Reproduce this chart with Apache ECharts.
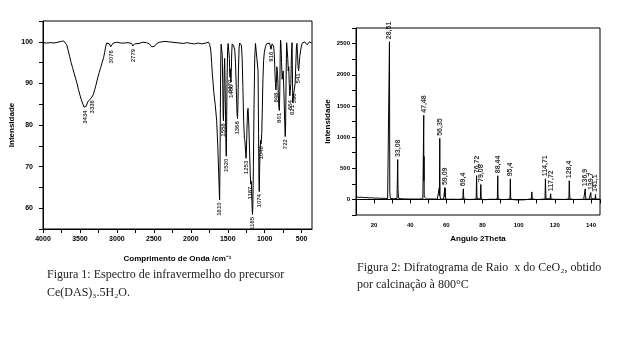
<!DOCTYPE html>
<html><head><meta charset="utf-8">
<script src="https://cdn.jsdelivr.net/npm/echarts@6/dist/echarts.min.js"></script>
<style>html,body{margin:0;padding:0;background:#fff}#c{width:623px;height:343px}</style>
</head><body><div id="c"></div>
<script>
// ---- Figure 1: IR spectrum ----
const irWavenumber = [4000,3950,3900,3850,3800,3750,3720,3700,3680,3660,3640,3620,3600,3580,3560,3540,3520,3500,3480,3460,3445,3430,3415,3400,3385,3370,3350,3335,3320,3300,3280,3260,3240,3220,3200,3180,3165,3150,3140,3120,3100,3085,3075,3065,3050,3000,2950,2900,2850,2800,2785,2775,2760,2700,2650,2600,2560,2530,2510,2490,2460,2420,2350,2300,2200,2100,2050,2000,1950,1900,1850,1800,1760,1745,1730,1718,1708,1700,1690,1670,1650,1635,1622,1615,1610,1605,1600,1595,1590,1582,1575,1568,1562,1558,1554,1548,1542,1536,1530,1524,1520,1516,1510,1502,1495,1485,1478,1472,1469,1465,1461,1457,1452,1446,1440,1430,1420,1405,1395,1385,1375,1368,1362,1355,1347,1338,1325,1315,1305,1295,1285,1275,1268,1260,1253,1248,1240,1232,1225,1215,1205,1195,1188,1183,1177,1170,1165,1160,1153,1145,1135,1125,1110,1098,1090,1083,1078,1074,1070,1064,1056,1048,1040,1032,1024,1015,1005,990,975,955,935,922,915,910,900,890,880,870,862,855,848,842,835,825,815,807,801,796,790,786,780,772,764,757,750,740,730,722,717,710,703,695,688,681,675,668,660,653,646,638,630,624,620,612,604,595,588,578,570,563,556,548,541,534,525,515,505,495,480,460,440,425,410,395,380,365];
const irTransmittance = [99.8,99.7,99.8,99.7,99.9,100.1,100.2,100,99.3,98,96.5,95,93.8,92.5,91.3,90,88.5,87.2,86,85,84.3,84.1,84.5,85.3,85.8,86,86.4,86.6,87.3,88.5,89.8,91.3,92.6,93.8,95,96.2,97.5,99,99.7,99.8,99.5,98.8,98.6,99.2,99.7,99.9,99.7,99.7,99.8,99.6,99,98.9,99.5,99.6,99.9,99.8,99.5,98.8,98.5,98.9,99.6,99.9,100.1,100,99.8,99.6,99.8,99.6,99.5,99.7,99.5,99.7,99.9,99.4,98,95,92,90.5,88,85,81,75,68,64,62,70,84,95,99.4,99.6,97,90,82,81,85,93,96,90,82,75,72.5,78,90,98,99.6,99.5,96,92,91.5,93.5,92,90.3,93,97.5,99.5,99.6,99,98,95,89,83,81.5,85,93,98.5,99.7,99.8,99.2,96,89,81,76.8,76.2,74,72,73.5,79,83.5,84,80,74,68,65.8,66.5,64.5,60,58.5,61,70,84,96,99.6,99.7,99.8,93,78,67,64,68,73,76.3,75.5,78,84,91,95.5,97.5,98.8,99.5,99.8,99.7,99.3,98.2,98.6,99.5,99.6,99,97,93,90,88.4,90,94,92,87,84,83.5,88,97,100.4,99.5,95,91,90.6,93,88,81,77.2,80,92,99.8,99.6,96,93,94,90,87,86.6,90,97,99.8,91,85.4,87,88,88.2,90,95,99,99.6,97,94,93,94.5,96.5,97.8,98.8,99.6,99.9,100,99.8,99.3,99.6,100,99.8,99.7];
const irBandWavenumber = [3430,3335,3075,2775,1610,1558,1520,1469,1457,1368,1253,1188,1165,1074,1048,915,848,801,722,653,620,595,541];
const irBandTransmittance = [84.1,86.6,98.6,98.9,62,81,72.5,91.5,90.3,81.5,72,65.8,58.5,64,75.5,98.2,88.4,83.5,77.2,86.6,85.4,88.2,93];
const irBandLabels = ['3434','3336','3076','2779','1610','1558','1520','1470','1456','1368','1253','1187','1165','1074','1048','916','848','801','722','654','621','596','541'];
const irXTickLabels = [4000,3500,3000,2500,2000,1500,1000,500];
const irXTicks = [4000,3750,3500,3250,3000,2750,2500,2250,2000,1750,1500,1250,1000,750,500];
const irYTickLabels = [60,70,80,90,100];

// ---- Figure 2: XRD pattern ----
const xrdAngle = [10,10.5,11,11.5,12,12.5,13,13.5,14,14.5,15,15.5,16,16.5,17,17.5,18,18.3,19,19.5,20,20.5,21,21.5,22,22.5,23,23.5,24,24.5,25,25.5,26,26.3,27,27.5,28,28.3,28.51,28.7,28.85,29.1,30,31,32,32.7,32.9,33.08,33.25,33.35,33.5,34,35,36,37,38,39,40,41,42,43,43.5,43.8,45,46,47,47.3,47.48,47.55,47.62,47.75,48,49,50,51,52,53,54,55,55.9,56.05,56.15,56.35,56.5,56.7,57.5,58.5,58.9,59.09,59.2,59.35,59.5,60,61,62,63,64,65,66,67,68,69.1,69.4,69.55,69.7,70,71,72,73,74,75,76,76.5,76.72,76.9,77.1,78,78.8,79.08,79.25,79.4,80,81,82,83,84,85,86,87,88.2,88.44,88.55,88.7,89,90,91,92,93,94,95.2,95.4,95.6,96,97,98,99,100,101,102,103,104,105,106,107.1,107.3,107.5,108,109,110,111,112,113,114.6,114.8,114.95,115.1,116,117.4,117.7,117.9,118.5,119,120,121,122,123,124,125,126,127,127.8,128,128.2,128.4,129,130,131,132,133,134,135,136,136.6,136.8,137,137.2,138,139,139.7,139.9,140.1,141,142.3,142.5,142.7,143.5,144.5,145];
const xrdIntensity = [42,35,40,33,38,30,36,30,34,28,32,27,30,26,29,24,35,24,26,22,25,20,24,19,22,18,20,17,22,16,18,15,30,16,17,14,18,40,2530,120,55,15,12,10,12,14,40,640,160,150,20,8,10,8,7,9,7,8,6,8,5,20,6,6,7,10,40,1350,300,690,40,8,6,5,7,4,6,3,5,10,180,60,980,70,8,4,6,15,190,40,180,10,4,2,5,3,4,2,3,1,3,8,170,60,6,3,1,2,0,2,1,4,10,380,60,6,3,10,240,40,4,2,-5,2,0,1,3,-2,1,10,380,90,5,2,0,1,-2,0,1,10,330,10,0,-3,-5,-8,-10,-8,-10,-6,-3,0,2,10,120,8,2,0,-2,-1,0,2,10,330,160,10,3,10,90,8,2,0,1,0,2,1,0,2,0,1,10,300,90,8,2,0,1,0,-1,1,0,2,10,170,60,5,3,5,10,110,10,4,10,80,8,5,3,4];
const xrdPeakAngle = [28.51,33.08,47.48,56.35,59.09,69.4,76.72,79.08,88.44,95.4,114.8,117.7,128,136.8,139.9,142.5];
const xrdPeakIntensity = [2530,640,1350,980,190,170,380,240,380,330,330,90,300,170,110,80];
const xrdPeakLabels = ['28,51','33,08','47,48','56,35','59,09','69,4','76,72','79,08','88,44','95,4','114,71','117,72','128,4','136,9','139,7','141,1'];
const xrdXTickLabels = [20,40,60,80,100,120,140];
const xrdYTickLabels = [0,500,1000,1500,2000,2500];

const irLine = irWavenumber.map((w, i) => [w, irTransmittance[i]]);
const irBands = irBandWavenumber.map((w, i) => ({ value: [w, irBandTransmittance[i]], name: irBandLabels[i] }));
const xrdLine = xrdAngle.map((a, i) => [a, xrdIntensity[i]]);
const xrdPeaks = xrdPeakAngle.map((a, i) => ({ value: [a, xrdPeakIntensity[i]], name: xrdPeakLabels[i] }));

const FONT = 'Liberation Sans';
const plain = v => String(v);
const axisCommon = {
  axisLine: { show: true, lineStyle: { color: '#000', width: 1 } },
  splitLine: { show: false },
  nameTextStyle: { color: '#000', fontFamily: FONT, fontWeight: 'bold', fontSize: 8 }
};

const chart = echarts.init(document.getElementById('c'), null, { renderer: 'canvas' });
chart.setOption({
  animation: false,
  backgroundColor: '#fff',
  grid: [
    { left: 43, top: 21, width: 269, height: 208, show: true, borderColor: '#000', borderWidth: 1 },
    { left: 356, top: 28, width: 244, height: 187, show: true, borderColor: '#000', borderWidth: 1 }
  ],
  xAxis: [
    Object.assign({}, axisCommon, {
      type: 'value', gridIndex: 0, min: 360, max: 4000, inverse: true,
      axisTick: { show: true, length: 4, customValues: irXTicks, lineStyle: { color: '#000' } },
      axisLabel: { customValues: irXTickLabels, formatter: plain, color: '#000', fontFamily: FONT, fontWeight: 'bold', fontSize: 7, margin: 7 },
      name: 'Comprimento de Onda /cm\u207B\u00B9', nameLocation: 'middle', nameGap: 26
    }),
    Object.assign({}, axisCommon, {
      type: 'value', gridIndex: 1, min: 10, max: 145, interval: 10,
      axisTick: { show: true, length: 4, lineStyle: { color: '#000' } },
      axisLabel: { customValues: xrdXTickLabels, formatter: plain, color: '#000', fontFamily: FONT, fontWeight: 'bold', fontSize: 6, margin: 7 },
      name: 'Angulo 2Theta', nameLocation: 'middle', nameGap: 20
    })
  ],
  yAxis: [
    Object.assign({}, axisCommon, {
      type: 'value', gridIndex: 0, min: 55, max: 105, interval: 5,
      axisTick: { show: true, length: 4, lineStyle: { color: '#000' } },
      axisLabel: { customValues: irYTickLabels, formatter: plain, color: '#000', fontFamily: FONT, fontWeight: 'bold', fontSize: 7, margin: 10 },
      name: 'Intensidade', nameLocation: 'middle', nameGap: 27, nameRotate: 90
    }),
    Object.assign({}, axisCommon, {
      type: 'value', gridIndex: 1, min: -250, max: 2750, interval: 250,
      axisTick: { show: true, length: 4, lineStyle: { color: '#000' } },
      axisLabel: { customValues: xrdYTickLabels, formatter: plain, color: '#000', fontFamily: FONT, fontWeight: 'bold', fontSize: 6, margin: 6 },
      name: 'Intensidade', nameLocation: 'middle', nameGap: 24, nameRotate: 90
    })
  ],
  series: [
    { type: 'line', xAxisIndex: 0, yAxisIndex: 0, data: irLine, showSymbol: false, symbol: 'none',
      lineStyle: { color: '#000', width: 1 }, silent: true },
    { type: 'scatter', xAxisIndex: 0, yAxisIndex: 0, data: irBands, symbolSize: 1,
      itemStyle: { color: 'rgba(0,0,0,0)' }, silent: true,
      label: { show: true, formatter: p => p.name, position: 'bottom', distance: 2, rotate: 90,
        align: 'right', verticalAlign: 'middle', color: '#000', fontFamily: FONT, fontWeight: 'bold', fontSize: 6 } },
    { type: 'line', xAxisIndex: 1, yAxisIndex: 1, data: xrdLine, showSymbol: false, symbol: 'none',
      lineStyle: { color: '#000', width: 1 }, silent: true },
    { type: 'scatter', xAxisIndex: 1, yAxisIndex: 1, data: xrdPeaks, symbolSize: 1,
      itemStyle: { color: 'rgba(0,0,0,0)' }, silent: true,
      label: { show: true, formatter: p => p.name, position: 'top', distance: 2, rotate: 90,
        align: 'left', verticalAlign: 'middle', color: '#000', fontFamily: FONT, fontWeight: 'bold', fontSize: 7 } }
  ],
  graphic: [
    { type: 'text', x: 47, y: 275, style: { text: 'Figura 1: Espectro de infravermelho do precursor', font: '12px "Liberation Serif"', fill: '#222', verticalAlign: 'middle', textVerticalAlign: 'middle' } },
    { type: 'text', x: 47, y: 293, style: { text: 'Ce(DAS)\u2083.5H\u2082O.', font: '12px "Liberation Serif"', fill: '#222', verticalAlign: 'middle', textVerticalAlign: 'middle' } },
    { type: 'text', x: 357, y: 268, style: { text: 'Figura 2: Difratograma de Raio  x do CeO\u2082, obtido', font: '12px "Liberation Serif"', fill: '#222', verticalAlign: 'middle', textVerticalAlign: 'middle' } },
    { type: 'text', x: 357, y: 285, style: { text: 'por calcinação à 800°C', font: '12px "Liberation Serif"', fill: '#222', verticalAlign: 'middle', textVerticalAlign: 'middle' } }
  ]
});
</script>
</body></html>
